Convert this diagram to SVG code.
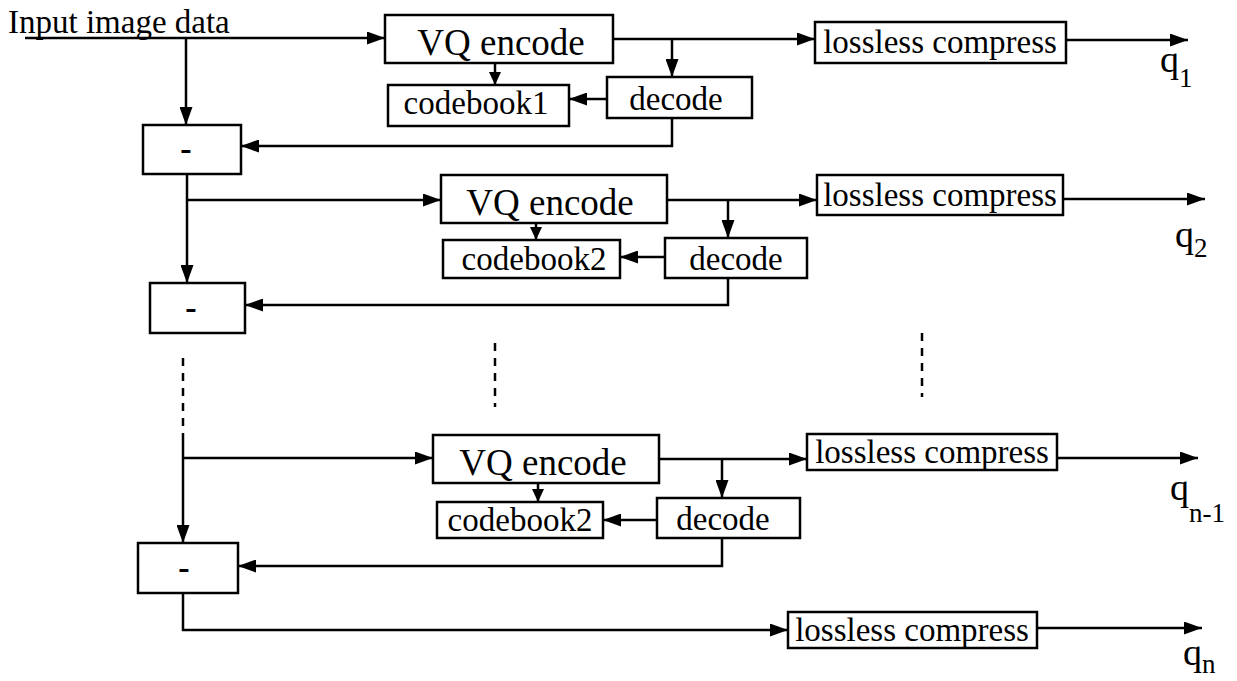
<svg xmlns="http://www.w3.org/2000/svg" width="1237" height="681" viewBox="0 0 1237 681">
<defs>
<style>
.box{fill:#fff;stroke:#000;stroke-width:2.5}
.ln{fill:none;stroke:#000;stroke-width:2.5}
.dash{fill:none;stroke:#000;stroke-width:2.5;stroke-dasharray:8 7}
.t{font-family:"Liberation Serif","Times New Roman",serif;font-size:33px;fill:#000;text-anchor:middle}
.vq{font-size:37px}
.minus{font-weight:bold;font-size:34px}
.q{font-family:"Liberation Serif","Times New Roman",serif;font-size:38px;fill:#000}
.sub{font-size:27px}
</style>
<marker id="ah" markerUnits="userSpaceOnUse" markerWidth="18" markerHeight="13" refX="18" refY="6.5" orient="auto">
<path d="M0,0 L18,6.5 L0,13 z" fill="#000"/>
</marker>
<marker id="ahs" markerUnits="userSpaceOnUse" markerWidth="13" markerHeight="12" refX="13" refY="6" orient="auto">
<path d="M0,0 L13,6 L0,12 z" fill="#000"/>
</marker>
</defs>
<rect width="1237" height="681" fill="#fff"/>

<g id="connectors">
<path class="ln" d="M25,38 H385" marker-end="url(#ah)"/>
<path class="ln" d="M186,38 V125" marker-end="url(#ah)"/>
<path class="ln" d="M613,39 H815" marker-end="url(#ah)"/>
<path class="ln" d="M672,39 V77" marker-end="url(#ah)"/>
<path class="ln" d="M495,63 V85" marker-end="url(#ahs)"/>
<path class="ln" d="M607,99 H569" marker-end="url(#ah)"/>
<path class="ln" d="M672,118 V146 H241" marker-end="url(#ah)"/>
<path class="ln" d="M1066,40 H1188" marker-end="url(#ah)"/>

<path class="ln" d="M187,174 V283" marker-end="url(#ah)"/>
<path class="ln" d="M187,200 H441" marker-end="url(#ah)"/>
<path class="ln" d="M667,200 H817" marker-end="url(#ah)"/>
<path class="ln" d="M728,200 V238" marker-end="url(#ah)"/>
<path class="ln" d="M536,223 V240" marker-end="url(#ahs)"/>
<path class="ln" d="M665,257 H620" marker-end="url(#ah)"/>
<path class="ln" d="M728,278 V305 H245" marker-end="url(#ah)"/>
<path class="ln" d="M1063,199 H1205" marker-end="url(#ah)"/>

<path class="dash" d="M183,358 V428"/>
<path class="dash" d="M495,343 V407"/>
<path class="dash" d="M922,333 V397"/>

<path class="ln" d="M183,433 V543" marker-end="url(#ah)"/>
<path class="ln" d="M183,458 H433" marker-end="url(#ah)"/>
<path class="ln" d="M659,459 H807" marker-end="url(#ah)"/>
<path class="ln" d="M722,459 V498" marker-end="url(#ah)"/>
<path class="ln" d="M538,483 V502" marker-end="url(#ahs)"/>
<path class="ln" d="M657,520 H603" marker-end="url(#ah)"/>
<path class="ln" d="M722,538 V566 H238" marker-end="url(#ah)"/>
<path class="ln" d="M1057,458 H1198" marker-end="url(#ah)"/>

<path class="ln" d="M183,593 V630 H788" marker-end="url(#ah)"/>
<path class="ln" d="M1037,628 H1202" marker-end="url(#ah)"/>
</g>

<g id="input-label">
<text class="t" x="8" y="33" style="text-anchor:start">Input image data</text>
</g>

<g id="vq1"><rect class="box" x="385" y="15" width="228" height="48"/><text class="t vq" x="501" y="55">VQ encode</text></g>
<g id="codebook1"><rect class="box" x="388" y="85" width="181" height="41"/><text class="t" x="476" y="114">codebook1</text></g>
<g id="decode1"><rect class="box" x="607" y="77" width="145" height="41"/><text class="t" x="676" y="110">decode</text></g>
<g id="lossless1"><rect class="box" x="815" y="22" width="251" height="41"/><text class="t" x="940" y="53">lossless compress</text></g>
<g id="minus1"><rect class="box" x="143" y="125" width="98" height="49"/><text class="t minus" x="186" y="160">-</text></g>
<g id="q1"><text class="q" x="1160" y="72">q<tspan class="sub" dy="15">1</tspan></text></g>

<g id="vq2"><rect class="box" x="441" y="175" width="226" height="48"/><text class="t vq" x="550" y="215">VQ encode</text></g>
<g id="codebook2"><rect class="box" x="443" y="240" width="177" height="38"/><text class="t" x="534" y="270">codebook2</text></g>
<g id="decode2"><rect class="box" x="665" y="238" width="142" height="40"/><text class="t" x="736" y="270">decode</text></g>
<g id="lossless2"><rect class="box" x="817" y="175" width="246" height="40"/><text class="t" x="940" y="206">lossless compress</text></g>
<g id="minus2"><rect class="box" x="150" y="283" width="95" height="50"/><text class="t minus" x="191" y="319">-</text></g>
<g id="q2"><text class="q" x="1175" y="247">q<tspan class="sub" dy="10">2</tspan></text></g>

<g id="vq3"><rect class="box" x="433" y="435" width="226" height="48"/><text class="t vq" x="543" y="475">VQ encode</text></g>
<g id="codebook3"><rect class="box" x="437" y="502" width="166" height="36"/><text class="t" x="520" y="531">codebook2</text></g>
<g id="decode3"><rect class="box" x="657" y="498" width="143" height="40"/><text class="t" x="723" y="530">decode</text></g>
<g id="lossless3"><rect class="box" x="807" y="434" width="250" height="36"/><text class="t" x="932" y="463">lossless compress</text></g>
<g id="minus3"><rect class="box" x="138" y="543" width="100" height="50"/><text class="t minus" x="184" y="579">-</text></g>
<g id="q3"><text class="q" x="1170" y="500">q<tspan class="sub" dy="22">n-1</tspan></text></g>

<g id="lossless4"><rect class="box" x="788" y="612" width="249" height="36"/><text class="t" x="912" y="641">lossless compress</text></g>
<g id="q4"><text class="q" x="1183" y="665">q<tspan class="sub" dy="8">n</tspan></text></g>
</svg>
